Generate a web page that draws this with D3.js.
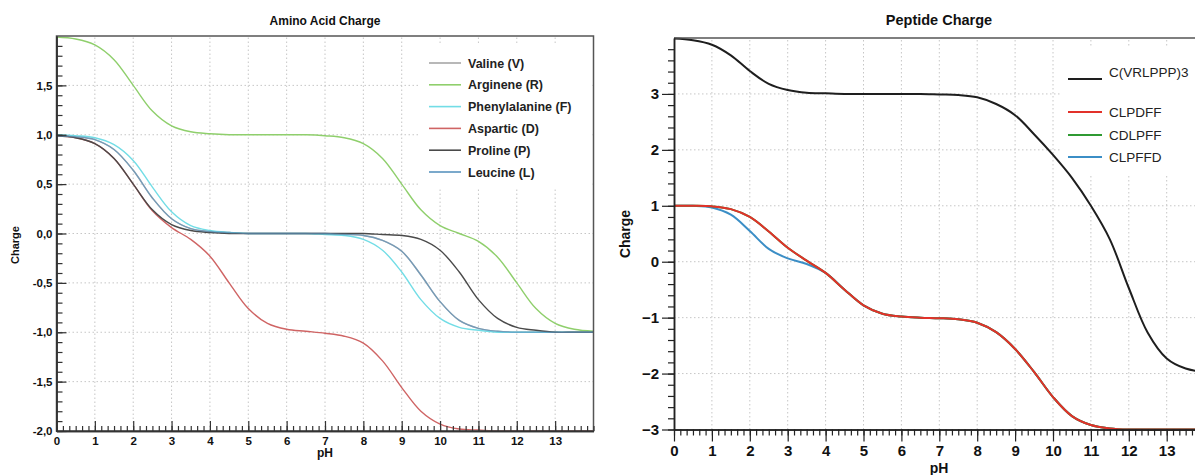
<!DOCTYPE html>
<html>
<head>
<meta charset="utf-8">
<script src="https://cdn.jsdelivr.net/npm/d3@7"></script>
<style>
  body { margin: 0; background: #fff; }
  svg { display: block; font-family: "Liberation Sans", Arial, sans-serif; }
</style>
</head>
<body>
<svg id="chart" width="1195" height="475"></svg>
<script>
// pH sample points (every 0.5)
const PH = [0, 0.5, 1, 1.5, 2, 2.5, 3, 3.5, 4, 4.5, 5, 5.5, 6, 6.5, 7,
            7.5, 8, 8.5, 9, 9.5, 10, 10.5, 11, 11.5, 12, 12.5, 13, 13.5, 14];

// amino acid charge
const VALINE   = [0.99, 0.98, 0.95, 0.85, 0.64, 0.36, 0.15, 0.05, 0.02, 0.01, 0.00, 0.00, 0.00, 0.00, 0.00,
                  -0.01, -0.02, -0.07, -0.18, -0.42, -0.69, -0.88, -0.96, -0.99, -1.00, -1.00, -1.00, -1.00, -1.00];
const ARGININE = [1.99, 1.97, 1.91, 1.76, 1.50, 1.24, 1.09, 1.03, 1.01, 1.00, 1.00, 1.00, 1.00, 1.00, 0.99,
                  0.97, 0.91, 0.76, 0.50, 0.24, 0.08, 0.00, -0.08, -0.24, -0.50, -0.76, -0.91, -0.97, -0.99];
const PHENYL   = [1.00, 0.99, 0.97, 0.90, 0.74, 0.47, 0.22, 0.08, 0.03, 0.01, 0.00, 0.00, 0.00, 0.00, -0.01,
                  -0.02, -0.06, -0.17, -0.39, -0.67, -0.86, -0.95, -0.98, -1.00, -1.00, -1.00, -1.00, -1.00, -1.00];
const ASPARTIC = [0.99, 0.97, 0.91, 0.76, 0.50, 0.23, 0.06, -0.06, -0.23, -0.50, -0.76, -0.91, -0.97, -0.99, -1.01,
                  -1.04, -1.11, -1.29, -1.56, -1.80, -1.93, -1.98, -1.99, -2.00, -2.00, -2.00, -2.00, -2.00, -2.00];
const PROLINE  = [0.99, 0.97, 0.91, 0.76, 0.50, 0.24, 0.09, 0.03, 0.01, 0.00, 0.00, 0.00, 0.00, 0.00, 0.00,
                  0.00, 0.00, -0.01, -0.02, -0.06, -0.17, -0.39, -0.67, -0.86, -0.95, -0.98, -1.00, -1.00, -1.00];
const LEUCINE  = [0.99, 0.98, 0.95, 0.85, 0.64, 0.36, 0.15, 0.05, 0.02, 0.01, 0.00, 0.00, 0.00, 0.00, 0.00,
                  -0.01, -0.02, -0.07, -0.18, -0.42, -0.69, -0.88, -0.96, -0.99, -1.00, -1.00, -1.00, -1.00, -1.00];

const AA_NAMES  = ["Valine (V)", "Arginene (R)", "Phenylalanine (F)", "Aspartic (D)", "Proline (P)", "Leucine (L)"];
const AA_SERIES = [VALINE, ARGININE, PHENYL, ASPARTIC, PROLINE, LEUCINE];
const AA_COLORS = ["#a6a6a6", "#8fcf6c", "#72dde6", "#cf6464", "#4a4a4a", "#5b94bf"];

// peptide charge
const PEP_CVRLPPP = [3.99, 3.96, 3.88, 3.69, 3.41, 3.18, 3.07, 3.02, 3.01, 3.00, 3.00, 3.00, 3.00, 3.00, 2.99,
                     2.98, 2.94, 2.82, 2.62, 2.28, 1.91, 1.50, 1.00, 0.40, -0.47, -1.27, -1.73, -1.91, -1.97];
const PEP_CLPDFF  = [1.00, 1.00, 0.99, 0.94, 0.80, 0.54, 0.25, 0.02, -0.20, -0.50, -0.78, -0.93, -0.98, -1.00, -1.01,
                     -1.03, -1.09, -1.26, -1.56, -1.97, -2.42, -2.76, -2.92, -2.98, -3.00, -3.00, -3.00, -3.00, -3.00];
const PEP_CDLPFF  = [1.00, 1.00, 0.99, 0.94, 0.80, 0.54, 0.25, 0.02, -0.20, -0.50, -0.78, -0.93, -0.98, -1.00, -1.01,
                     -1.03, -1.09, -1.26, -1.56, -1.97, -2.42, -2.76, -2.92, -2.98, -3.00, -3.00, -3.00, -3.00, -3.00];
const PEP_CLPFFD  = [1.00, 1.00, 0.97, 0.84, 0.55, 0.23, 0.06, -0.04, -0.20, -0.50, -0.78, -0.93, -0.98, -1.00, -1.01,
                     -1.03, -1.09, -1.26, -1.56, -1.97, -2.42, -2.76, -2.92, -2.98, -3.00, -3.00, -3.00, -3.00, -3.00];

const PEP_NAMES  = ["C(VRLPPP)3", "CLPDFF", "CDLPFF", "CLPFFD"];
const PEP_SERIES = [PEP_CVRLPPP, PEP_CLPDFF, PEP_CDLPFF, PEP_CLPFFD];
const PEP_COLORS = ["#1e1e1e", "#e2312a", "#2f9a32", "#3b8ec6"];

const X_TICKS = [0, 1, 2, 3, 4, 5, 6, 7, 8, 9, 10, 11, 12, 13];
const AA_Y_TICKS = [-2, -1.5, -1, -0.5, 0, 0.5, 1, 1.5];
const PEP_Y_TICKS = [-3, -2, -1, 0, 1, 2, 3];

const svg = d3.select("#chart");
const gridColor = "#c6c6c6";

function gridLines(g, x, y, xs, ys) {
  const [x0, x1] = x.range(), [y0, y1] = y.range();
  g.append("g").selectAll("line").data(xs).join("line")
    .attr("x1", d => x(d)).attr("x2", d => x(d)).attr("y1", y0).attr("y2", y1)
    .attr("stroke", gridColor).attr("stroke-dasharray", "1.5,2.5");
  g.append("g").selectAll("line").data(ys).join("line")
    .attr("y1", d => y(d)).attr("y2", d => y(d)).attr("x1", x0).attr("x2", x1)
    .attr("stroke", gridColor).attr("stroke-dasharray", "1.5,2.5");
}

function styleAxis(sel, color, fs, weight) {
  sel.select(".domain").attr("stroke", color).attr("stroke-width", 1.5);
  sel.selectAll(".tick line").attr("stroke", color).attr("stroke-width", 1.2);
  sel.selectAll("text").attr("fill", "#111").style("font-size", fs + "px").style("font-weight", weight);
}

// ---------------- left: amino acid charge ----------------
{
  const x = d3.scaleLinear().domain([0, 14]).range([56.5, 593.5]);
  const y = d3.scaleLinear().domain([-2, 2]).range([431, 36]);
  const g = svg.append("g");

  gridLines(g, x, y, X_TICKS.slice(1), [-1.5, -1, -0.5, 0, 0.5, 1, 1.5]);

  // legend background hides the grid
  g.append("rect").attr("x", 418).attr("y", 44).attr("width", 174).attr("height", 144).attr("fill", "#fff");

  const line = d3.line().x((d, i) => x(PH[i])).y(d => y(d)).curve(d3.curveCatmullRom.alpha(0.5));
  AA_SERIES.forEach((s, k) => {
    g.append("path").datum(s).attr("d", line).attr("fill", "none")
      .attr("stroke", AA_COLORS[k]).attr("stroke-width", 1.4)
      .attr("stroke-opacity", k === 5 ? 0.65 : 1);
  });

  // frame
  g.append("rect").attr("x", 56.5).attr("y", 36).attr("width", 537).attr("height", 395)
    .attr("fill", "none").attr("stroke", "#555").attr("stroke-width", 1.5);

  const fmt = d => d.toFixed(1).replace(".", ",");
  const xa = g.append("g").attr("transform", "translate(0,431)")
    .call(d3.axisBottom(x).tickValues(X_TICKS).tickSize(-10).tickSizeOuter(0).tickPadding(6).tickFormat(d3.format("d")));
  styleAxis(xa, "#333", 11.5, "bold");
  const xm = g.append("g").attr("transform", "translate(0,431)")
    .call(d3.axisBottom(x).tickValues(d3.range(0, 85).map(i => i / 6)).tickSize(-5).tickSizeOuter(0).tickFormat(""));
  styleAxis(xm, "#333", 10, "bold");

  const ya = g.append("g").attr("transform", "translate(56.5,0)")
    .call(d3.axisLeft(y).tickValues(AA_Y_TICKS).tickSize(-10).tickSizeOuter(0).tickPadding(4).tickFormat(fmt));
  styleAxis(ya, "#333", 11.5, "bold");
  const ym = g.append("g").attr("transform", "translate(56.5,0)")
    .call(d3.axisLeft(y).tickValues(d3.range(-20, 20).map(i => i / 10)).tickSize(-6).tickSizeOuter(0).tickFormat(""));
  styleAxis(ym, "#333", 10, "bold");

  g.append("text").attr("x", 325).attr("y", 25).attr("text-anchor", "middle")
    .style("font-size", "12px").style("font-weight", "bold").attr("fill", "#111").text("Amino Acid Charge");
  g.append("text").attr("x", 325).attr("y", 457).attr("text-anchor", "middle")
    .style("font-size", "12px").style("font-weight", "bold").attr("fill", "#111").text("pH");
  g.append("text").attr("transform", "translate(19,245) rotate(-90)").attr("text-anchor", "middle")
    .style("font-size", "11px").style("font-weight", "bold").attr("fill", "#111").text("Charge");

  const lg = g.append("g");
  AA_NAMES.forEach((n, k) => {
    const yy = 63 + k * 21.8;
    lg.append("line").attr("x1", 429).attr("x2", 461).attr("y1", yy).attr("y2", yy)
      .attr("stroke", AA_COLORS[k]).attr("stroke-width", 1.6);
    lg.append("text").attr("x", 468).attr("y", yy).attr("dy", "0.36em")
      .style("font-size", "12.5px").style("font-weight", "bold").attr("fill", "#222").text(n);
  });
}

// ---------------- right: peptide charge ----------------
{
  const x = d3.scaleLinear().domain([0, 14]).range([674, 1204.6]);
  const y = d3.scaleLinear().domain([-3, 4]).range([429.5, 38]);
  const g = svg.append("g");

  gridLines(g, x, y, X_TICKS.slice(1), [-2, -1, 0, 1, 2, 3]);

  g.append("rect").attr("x", 1062).attr("y", 48).attr("width", 140).attr("height", 127).attr("fill", "#fff");

  const line = d3.line().x((d, i) => x(PH[i])).y(d => y(d)).curve(d3.curveCatmullRom.alpha(0.5));
  [3, 2, 1, 0].forEach(k => {
    g.append("path").datum(PEP_SERIES[k]).attr("d", line).attr("fill", "none")
      .attr("stroke", PEP_COLORS[k]).attr("stroke-width", 2);
  });

  g.append("line").attr("x1", 674).attr("x2", 1205).attr("y1", 38).attr("y2", 38)
    .attr("stroke", "#555").attr("stroke-width", 1.5);

  const xa = g.append("g").attr("transform", "translate(0,429.5)")
    .call(d3.axisBottom(x).tickValues(X_TICKS).tickSize(12).tickSizeOuter(0).tickPadding(4).tickFormat(d3.format("d")));
  styleAxis(xa, "#222", 15, "bold");
  const xm = g.append("g").attr("transform", "translate(0,429.5)")
    .call(d3.axisBottom(x).tickValues(d3.range(0, 85).map(i => i / 6)).tickSize(6).tickSizeOuter(0).tickFormat(""));
  styleAxis(xm, "#222", 10, "bold");

  const ya = g.append("g").attr("transform", "translate(674,0)")
    .call(d3.axisLeft(y).tickValues(PEP_Y_TICKS).tickSize(12).tickSizeOuter(0).tickPadding(3).tickFormat(d3.format("d")));
  styleAxis(ya, "#222", 15, "bold");
  const ym = g.append("g").attr("transform", "translate(674,0)")
    .call(d3.axisLeft(y).tickValues(d3.range(-15, 20).map(i => i / 5)).tickSize(6).tickSizeOuter(0).tickFormat(""));
  styleAxis(ym, "#222", 10, "bold");

  g.append("text").attr("x", 939).attr("y", 25).attr("text-anchor", "middle")
    .style("font-size", "14.5px").style("font-weight", "bold").attr("fill", "#111").text("Peptide Charge");
  g.append("text").attr("x", 939).attr("y", 473).attr("text-anchor", "middle")
    .style("font-size", "14px").style("font-weight", "bold").attr("fill", "#111").text("pH");
  g.append("text").attr("transform", "translate(630,234) rotate(-90)").attr("text-anchor", "middle")
    .style("font-size", "14px").style("font-weight", "bold").attr("fill", "#111").text("Charge");

  const lg = g.append("g");
  const rows = [{t: 72, l: 79}, {t: 112, l: 112}, {t: 135, l: 135}, {t: 157, l: 157}];
  PEP_NAMES.forEach((n, k) => {
    lg.append("line").attr("x1", 1068).attr("x2", 1102).attr("y1", rows[k].l).attr("y2", rows[k].l)
      .attr("stroke", PEP_COLORS[k]).attr("stroke-width", 2);
    lg.append("text").attr("x", 1109).attr("y", rows[k].t).attr("dy", "0.36em")
      .style("font-size", "13.5px").attr("fill", "#222").text(n);
  });
}
</script>
</body>
</html>
